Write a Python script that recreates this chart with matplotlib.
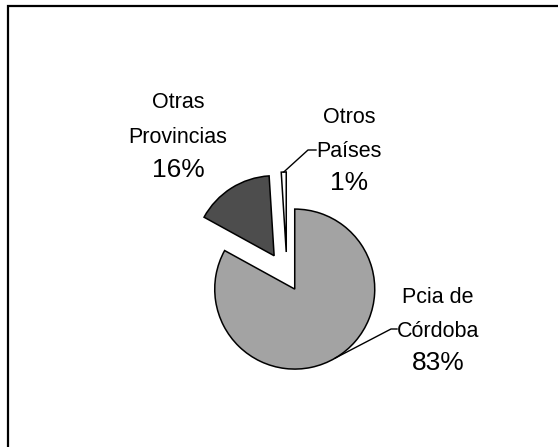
import math
import matplotlib
matplotlib.use("Agg")
import matplotlib.pyplot as plt
from matplotlib.patches import Rectangle

# data
labels = ["Pcia de\nCórdoba", "Otras\nProvincias", "Otros\nPaíses"]
values = [83, 16, 1]
colors = ["#a3a3a3", "#4d4d4d", "#ffffff"]
explode = [0.19, 0.3, 0.3]

W, H = 558, 447
R = 80.0          # pie radius in pixels
CX, CY = 287, 276  # pie centre in pixels (before explode)


def px(x, y):
    # pixel position -> data units (radius = 1)
    return (x - CX) / R, (CY - y) / R


plt.rcParams["font.family"] = ["Liberation Sans", "DejaVu Sans"]
fig = plt.figure(figsize=(W / 100, H / 100), dpi=100)
ax = fig.add_axes([0, 0, 1, 1])

wedges, _ = ax.pie(values, colors=colors, explode=explode, startangle=90,
                   counterclock=False, radius=1.0,
                   wedgeprops=dict(edgecolor="black", linewidth=1.1))
ax.set_xlim(-CX / R, (W - CX) / R)
ax.set_ylim(-(H - CY) / R, CY / R)
ax.set_aspect("equal")
ax.axis("off")

# label blocks: name lines + percentage, baselines in pixels
blocks = [
    (438, [303, 337], 370),   # Pcia de Córdoba
    (178, [108, 143], 177),   # Otras Provincias
    (349, [123, 157], 190),   # Otros Países
]
for (xc, name_bl, pct_bl), lab, v in zip(blocks, labels, values):
    for line, bl in zip(lab.split("\n"), name_bl):
        ax.text(*px(xc, bl), line, ha="center", va="baseline", fontsize=15.5)
    ax.text(*px(xc, pct_bl), f"{v}%", ha="center", va="baseline", fontsize=19)


def edge_point(w):
    ang = math.radians((w.theta1 + w.theta2) / 2)
    cx, cy = w.center
    return cx + w.r * math.cos(ang), cy + w.r * math.sin(ang)


# leader lines
leaders = [
    (0, [(391, 329), (397, 329)]),
    (2, [(308, 150), (316, 150)]),
]
for i, pts in leaders:
    x0, y0 = edge_point(wedges[i])
    xs = [x0] + [px(*p)[0] for p in pts]
    ys = [y0] + [px(*p)[1] for p in pts]
    ax.plot(xs, ys, color="black", lw=1.0)

# chart frame
fig.patches.append(Rectangle((8 / W, -0.1), 1.2, 1.1 - 6 / H, transform=fig.transFigure,
                             fill=False, edgecolor="black", lw=1.6))

fig.savefig("out.png", dpi=100)
